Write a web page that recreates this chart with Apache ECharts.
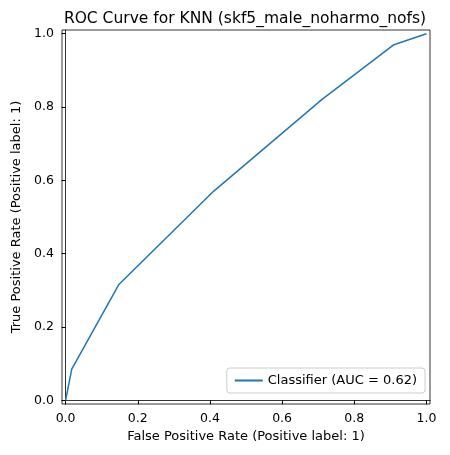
<!DOCTYPE html>
<html>
<head>
<meta charset="utf-8">
<script src="https://cdn.jsdelivr.net/npm/echarts@6/dist/echarts.min.js"></script>
<style>html,body{margin:0;padding:0;background:#fff}#chart{width:450px;height:455px}</style>
</head>
<body>
<div id="chart"></div>
<script>
// ROC points
const fpr = [0, 0.017, 0.147, 0.41, 0.71, 0.91, 1]
const tpr = [0, 0.085, 0.315, 0.57, 0.82, 0.97, 1]
const tickValues = [0, 0.2, 0.4, 0.6, 0.8, 1]

const font = "DejaVu Sans"
const axisCommon = {
  type: "value",
  min: -0.01,
  max: 1.01,
  nameLocation: "middle",
  nameTextStyle: { fontFamily: font, fontSize: 13, color: "#000" },
  axisLine: { show: true, lineStyle: { color: "#000", width: 0.8 } },
  axisTick: { show: true, length: 4, customValues: tickValues, lineStyle: { color: "#000" } },
  axisLabel: {
    customValues: tickValues,
    fontFamily: font, fontSize: 12.5, color: "#000",
    formatter: v => v.toFixed(1)
  },
  splitLine: { show: false }
}

const chart = echarts.init(document.getElementById("chart"))
chart.setOption({
  animation: false,
  title: {
    text: "ROC Curve for KNN (skf5_male_noharmo_nofs)",
    left: 240, top: 6, textAlign: "center",
    textStyle: { fontFamily: font, fontSize: 15.5, fontWeight: "normal", color: "#000" }
  },
  grid: { left: 62, right: 20, top: 30, bottom: 51, containLabel: false, show: true, borderColor: "#000", borderWidth: 0.8 },
  xAxis: Object.assign({}, axisCommon, { name: "False Positive Rate (Positive label: 1)", nameGap: 26 }),
  yAxis: Object.assign({}, axisCommon, { name: "True Positive Rate (Positive label: 1)", nameGap: 38 }),
  legend: {
    right: 25, bottom: 62,
    padding: [6, 8],
    borderColor: "#ccc", borderWidth: 1, borderRadius: 3,
    itemWidth: 28, itemHeight: 2,
    textStyle: { fontFamily: font, fontSize: 13, color: "#000" },
    data: [{ name: "Classifier (AUC = 0.62)", icon: "rect" }]
  },
  series: [{
    name: "Classifier (AUC = 0.62)",
    type: "line",
    data: fpr.map((x, i) => [x, tpr[i]]),
    showSymbol: false,
    lineStyle: { color: "#1f77b4", width: 1.5 },
    itemStyle: { color: "#1f77b4" }
  }]
})
</script>
</body>
</html>
